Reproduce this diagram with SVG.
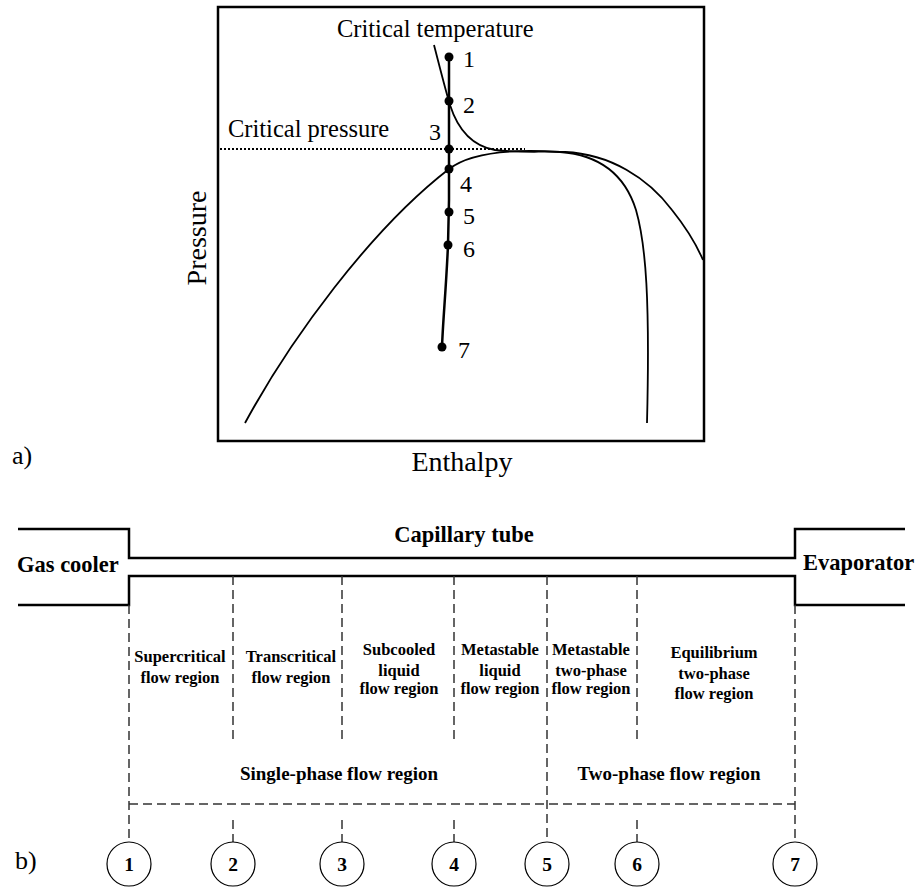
<svg xmlns="http://www.w3.org/2000/svg" width="915" height="888" viewBox="0 0 915 888">
<style>
text{font-family:"Liberation Serif","Times New Roman",serif;fill:#000}
.lbl{font-size:24.5px}
.ax{font-size:28px}
.pn{font-size:24px}
.col{font-size:16.5px;font-weight:bold;text-anchor:middle}
.big{font-size:19px;font-weight:bold;text-anchor:middle}
.hd{font-size:22.5px;font-weight:bold}
.cn{font-size:19.5px;font-weight:bold;text-anchor:middle}
.curve{fill:none;stroke:#000;stroke-width:1.8}
.solid{fill:none;stroke:#000;stroke-width:2.5}
.dash{fill:none;stroke:#333;stroke-width:1.5;stroke-dasharray:9,5}
.circ{fill:#fff;stroke:#000;stroke-width:1.2}
.dot{fill:#000}
</style>

<g id="diagram-a">
  <rect x="218" y="7" width="486" height="434" fill="none" stroke="#000" stroke-width="2.5"/>
  <line x1="220" y1="149" x2="525" y2="149" stroke="#000" stroke-width="2" stroke-dasharray="2,2"/>
  <path id="saturation-dome" class="curve" d="M245,423 C290,340 370,230 449,169 C475,149 530,150 560,152 C600,155 625,175 636,210 C646,245 650,300 647,423"/>
  <path id="critical-isotherm" class="curve" d="M434,45 C441,72 446,92 450,105 C458,130 472,146 495,150 C520,153 540,151 565,152 C610,154 648,178 672,210 C688,230 697,246 703,260"/>
  <path id="process-line" fill="none" stroke="#000" stroke-width="2.5" d="M449,57 L449,200 L448,245 C446,290 443,320 442,347"/>
  <g id="points-a">
    <circle class="dot" cx="449" cy="57" r="4.5"/>
    <circle class="dot" cx="449" cy="101" r="4.5"/>
    <circle class="dot" cx="449" cy="149" r="4.5"/>
    <circle class="dot" cx="449" cy="169" r="4.5"/>
    <circle class="dot" cx="449" cy="212" r="4.5"/>
    <circle class="dot" cx="448" cy="245" r="4.5"/>
    <circle class="dot" cx="442" cy="347" r="4.5"/>
    <text class="pn" x="463" y="67">1</text>
    <text class="pn" x="463" y="113">2</text>
    <text class="pn" x="429" y="140">3</text>
    <text class="pn" x="460" y="192">4</text>
    <text class="pn" x="463" y="224">5</text>
    <text class="pn" x="463" y="257">6</text>
    <text class="pn" x="458" y="358">7</text>
  </g>
  <text class="lbl" x="337" y="37">Critical temperature</text>
  <text class="lbl" x="228" y="137">Critical pressure</text>
  <text class="ax" x="0" y="0" text-anchor="middle" transform="translate(206,238) rotate(-90)">Pressure</text>
  <text class="ax" x="462" y="471" text-anchor="middle">Enthalpy</text>
  <text x="12" y="464" style="font-size:26px">a)</text>
</g>

<g id="diagram-b">
  <g id="tube">
    <path class="solid" d="M18,529 H129 V558 H795 V529 H905"/>
    <path class="solid" d="M18,605 H129 V576 H795 V605 H905"/>
  </g>
  <text class="hd" x="17" y="572">Gas cooler</text>
  <text class="hd" x="464" y="542" text-anchor="middle">Capillary tube</text>
  <text class="hd" x="803" y="570">Evaporator</text>

  <g id="connectors">
    <line class="dash" x1="129" y1="605" x2="129" y2="842"/>
    <line class="dash" x1="233" y1="576" x2="233" y2="742"/>
    <line class="dash" x1="342" y1="576" x2="342" y2="742"/>
    <line class="dash" x1="454" y1="576" x2="454" y2="742"/>
    <line class="dash" x1="547" y1="576" x2="547" y2="842"/>
    <line class="dash" x1="637" y1="576" x2="637" y2="742"/>
    <line class="dash" x1="795" y1="605" x2="795" y2="842"/>
    <line class="dash" x1="129" y1="804" x2="795" y2="804"/>
    <line class="dash" x1="233" y1="820" x2="233" y2="842"/>
    <line class="dash" x1="342" y1="820" x2="342" y2="842"/>
    <line class="dash" x1="454" y1="820" x2="454" y2="842"/>
    <line class="dash" x1="637" y1="820" x2="637" y2="842"/>
  </g>

  <g id="region-supercritical">
    <text class="col" x="180" y="662">Supercritical</text>
    <text class="col" x="180" y="683">flow region</text>
  </g>
  <g id="region-transcritical">
    <text class="col" x="291" y="662">Transcritical</text>
    <text class="col" x="291" y="683">flow region</text>
  </g>
  <g id="region-subcooled">
    <text class="col" x="399" y="655">Subcooled</text>
    <text class="col" x="399" y="676">liquid</text>
    <text class="col" x="399" y="694">flow region</text>
  </g>
  <g id="region-metastable-liquid">
    <text class="col" x="500" y="655">Metastable</text>
    <text class="col" x="500" y="676">liquid</text>
    <text class="col" x="500" y="694">flow region</text>
  </g>
  <g id="region-metastable-two-phase">
    <text class="col" x="591" y="655">Metastable</text>
    <text class="col" x="591" y="676">two-phase</text>
    <text class="col" x="591" y="694">flow region</text>
  </g>
  <g id="region-equilibrium">
    <text class="col" x="714" y="658">Equilibrium</text>
    <text class="col" x="714" y="679">two-phase</text>
    <text class="col" x="714" y="699">flow region</text>
  </g>
  <g id="region-single-phase">
    <text class="big" x="339" y="780">Single-phase flow region</text>
  </g>
  <g id="region-two-phase">
    <text class="big" x="669" y="780">Two-phase flow region</text>
  </g>

  <g id="node-1"><circle class="circ" cx="129" cy="864" r="22"/><text class="cn" x="129" y="871">1</text></g>
  <g id="node-2"><circle class="circ" cx="233" cy="864" r="22"/><text class="cn" x="233" y="871">2</text></g>
  <g id="node-3"><circle class="circ" cx="342" cy="864" r="22"/><text class="cn" x="342" y="871">3</text></g>
  <g id="node-4"><circle class="circ" cx="454" cy="864" r="22"/><text class="cn" x="454" y="871">4</text></g>
  <g id="node-5"><circle class="circ" cx="547" cy="864" r="22"/><text class="cn" x="547" y="871">5</text></g>
  <g id="node-6"><circle class="circ" cx="637" cy="864" r="22"/><text class="cn" x="637" y="871">6</text></g>
  <g id="node-7"><circle class="circ" cx="795" cy="864" r="22"/><text class="cn" x="795" y="871">7</text></g>
  <text x="15" y="869" style="font-size:26px">b)</text>
</g>
</svg>
